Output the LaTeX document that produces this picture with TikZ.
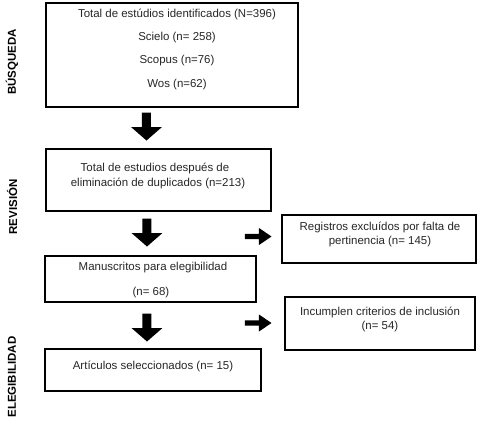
\documentclass[tikz,border=0pt]{standalone}
\usepackage{fontspec}
\setmainfont{Liberation Sans}
\usetikzlibrary{fit}
\begin{document}
\begin{tikzpicture}[x=0.75pt,y=-0.75pt,
  box/.style={draw=black, line width=1.4pt, inner sep=0pt, fit=#1},
  txt/.style={font=\fontsize{8.6}{10}\selectfont, inner sep=0pt, text=black!85},
  side/.style={font=\fontsize{8.6}{10}\selectfont\bfseries, rotate=90, inner sep=0pt},
  downarr/.pic={\fill (-4.5,0) -- (4.5,0) -- (4.5,14.5) -- (15.5,14.5) -- (0,28) -- (-15.5,14.5) -- (-4.5,14.5) -- cycle;},
  rightarr/.pic={\fill (0,-2.7) -- (14,-2.7) -- (14,-8.5) -- (26.5,0) -- (14,8.5) -- (14,2.7) -- (0,2.7) -- cycle;}]
\useasboundingbox (0,0) rectangle (480,444);

% corners
\coordinate (b1a) at (46,3);   \coordinate (b1b) at (298,107);
\coordinate (b2a) at (46,149); \coordinate (b2b) at (271,211);
\coordinate (b3a) at (45,256); \coordinate (b3b) at (256,302);
\coordinate (b4a) at (45,349); \coordinate (b4b) at (261,391);
\coordinate (r1a) at (282,215); \coordinate (r1b) at (476,263);
\coordinate (r2a) at (285,297); \coordinate (r2b) at (475,350);

\node[box={(b1a)(b1b)}] (b1) {};
\node[box={(b2a)(b2b)}] (b2) {};
\node[box={(b3a)(b3b)}] (b3) {};
\node[box={(b4a)(b4b)}] (b4) {};
\node[box={(r1a)(r1b)}] (r1) {};
\node[box={(r2a)(r2b)}] (r2) {};

% texts
\node[txt] (t1a) at (177,14) {Total de estúdios identificados (N=396)};
\node[txt] (t1b) at (177,38) {Scielo (n= 258)};
\node[txt] (t1c) at (177,61) {Scopus (n=76)};
\node[txt] (t1d) at (177,85) {Wos (n=62)};
\node[txt] (t2a) at (155,168) {Total de estudios después de};
\node[txt] (t2b) at (158,183) {eliminación de duplicados (n=213)};
\node[txt] (t3a) at (153,268) {Manuscritos para elegibilidad};
\node[txt] (t3b) at (151,293) {(n= 68)};
\node[txt] (t4) at (153,366) {Artículos seleccionados (n= 15)};
\node[txt] (t5a) at (380,227) {Registros excluídos por falta de};
\node[txt] (t5b) at (380,242) {pertinencia (n= 145)};
\node[txt] (t6a) at (380,312) {Incumplen criterios de inclusión};
\node[txt] (t6b) at (380,327) {(n= 54)};

% side labels
\node[side] (s1) at (12,62) {BÚSQUEDA};
\node[side] (s2) at (12,207) {REVISIÓN};
\node[side] (s3) at (12,377) {ELEGIBILIDAD};

% block arrows
\pic at (146.5,112.5) {downarr};
\pic at (147,218.5) {downarr};
\pic at (147,313.5) {downarr};
\pic at (245,236.5) {rightarr};
\pic at (245,323) {rightarr};
\end{tikzpicture}
\end{document}
